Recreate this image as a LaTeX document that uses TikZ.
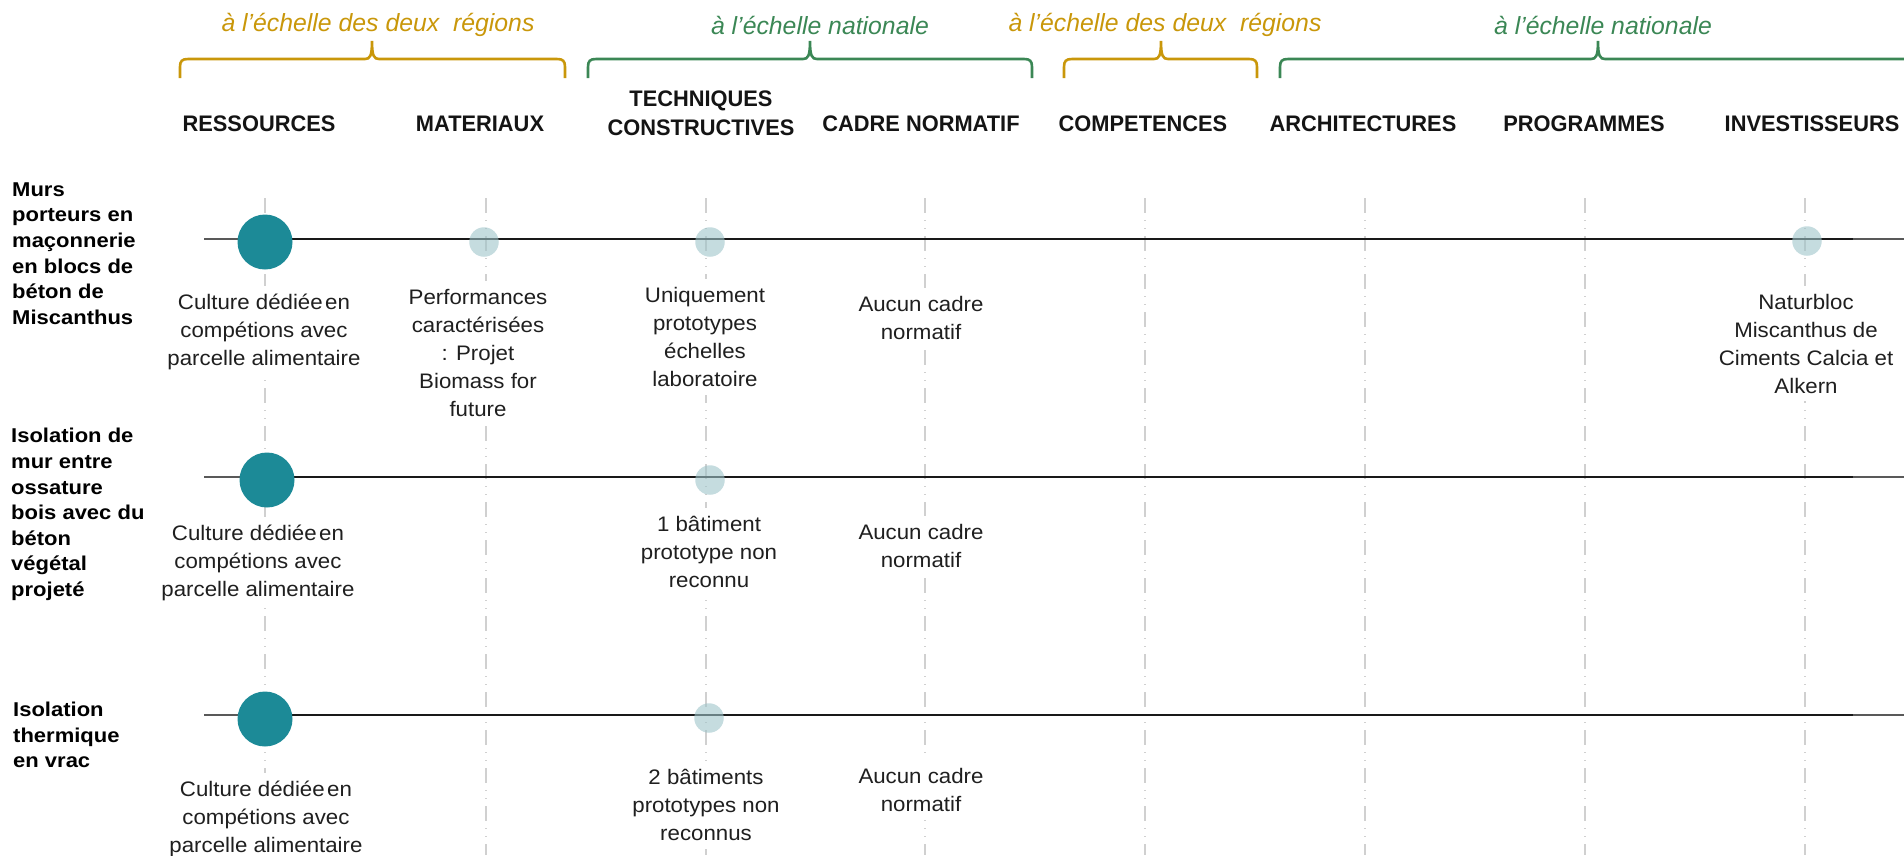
\documentclass[tikz,border=0pt]{standalone}
\usepackage{fontspec}
\setmainfont{Liberation Sans}
\newfontfamily\headfont[FakeStretch=0.97]{Liberation Sans}
\newfontfamily\bodyfont[FakeStretch=1.06]{Liberation Sans}
\newfontfamily\rowfont[FakeStretch=1.1]{Liberation Sans}
\newfontfamily\topfont{Liberation Sans}
\definecolor{tealdot}{HTML}{1C8A97}
\definecolor{lightdot}{HTML}{9EC4C9}
\definecolor{goldc}{HTML}{C9970A}
\definecolor{greenc}{HTML}{3B8755}
\definecolor{vgray}{HTML}{D0D0D0}
\newcommand\mybrace[4]{%
  \draw[bracestyle,#1] (#2,78) -- (#2,67) .. controls (#2,61) and (#2+2,59) .. (#2+8,59)
    -- (#4-7,59) .. controls (#4-2,59) and (#4,56) .. (#4,41)
    .. controls (#4,56) and (#4+2,59) .. (#4+7,59)
    -- (#3-8,59) .. controls (#3-2,59) and (#3,61) .. (#3,67) -- (#3,78);}
\tikzset{
  bracestyle/.style={line width=2.6pt},
  scaletxt/.style={font=\topfont\itshape\fontsize{24.8}{28}\selectfont, inner sep=0pt},
  heading/.style={font=\headfont\bfseries\fontsize{22.5}{29}\selectfont, text=black!92, align=center, inner sep=0pt},
  body/.style={font=\bodyfont\fontsize{21}{28}\selectfont, align=center, fill=white, inner xsep=4pt, inner ysep=8pt, text=black!88},
  rowlab/.style={font=\rowfont\bfseries\fontsize{20}{25.6}\selectfont, align=left, anchor=west, inner sep=0pt, text=black},
  bigdot/.style={circle, fill=tealdot, minimum size=55pt, inner sep=0pt},
  smalldot/.style={circle, fill=lightdot, fill opacity=0.6, minimum size=29.5pt, inner sep=0pt},
  vline/.style={draw=vgray, line width=1.6pt, dash pattern=on 15pt off 7pt on 1pt off 7pt on 1pt off 7pt},
  hline/.style={draw=black!90, line width=2pt},
  hlinegray/.style={draw=black!65, line width=2pt}
}
\begin{document}
\begin{tikzpicture}[x=1pt,y=-1pt]
\path[use as bounding box] (0,0) rectangle (1904,855);
% scale labels and braces
\node[scaletxt, text=goldc] (s1) at (378,25) {à l’échelle des deux\ \ régions};
\node[scaletxt, text=greenc] (s2) at (820,25) {à l’échelle nationale};
\node[scaletxt, text=goldc] (s3) at (1165,25) {à l’échelle des deux\ \ régions};
\node[scaletxt, text=greenc] (s4) at (1603,25) {à l’échelle nationale};
\mybrace{goldc}{180}{565}{372}
\mybrace{greenc}{588}{1032}{810}
\mybrace{goldc}{1064}{1257}{1161}
\mybrace{greenc}{1280}{1960}{1598}
% headings
\node[heading] (h1) at (259,124) {RESSOURCES};
\node[heading] (h2) at (480,124) {MATERIAUX};
\node[heading] (h3) at (701,113.5) {TECHNIQUES\\CONSTRUCTIVES};
\node[heading] (h4) at (921,124) {CADRE NORMATIF};
\node[heading] (h5) at (1143,124) {COMPETENCES};
\node[heading] (h6) at (1363,124) {ARCHITECTURES};
\node[heading] (h7) at (1584,124) {PROGRAMMES};
\node[heading] (h8) at (1812,124) {INVESTISSEURS};
% vertical dash-dot lines
\foreach \x [count=\i] in {265,486,706,925,1145,1365,1585,1805} {
  \coordinate (vt\i) at (\x,198);
  \coordinate (vb\i) at (\x,855);
  \draw[vline] (vt\i) -- (vb\i);
}
% horizontal row lines
\foreach \y [count=\i] in {239,477,715} {
  \coordinate (hs\i) at (204,\y);
  \coordinate (hm\i) at (265,\y);
  \coordinate (he\i) at (1853,\y);
  \coordinate (hz\i) at (1904,\y);
  \draw[hlinegray] (hs\i) -- (hm\i);
  \draw[hline] (hm\i) -- (he\i);
  \draw[hlinegray] (he\i) -- (hz\i);
}
% row labels
\node[rowlab] (r1) at (12,253.5) {Murs\\porteurs en\\maçonnerie\\en blocs de\\béton de\\Miscanthus};
\node[rowlab] (r2) at (11,514.5) {Isolation de\\mur entre\\ossature\\bois avec du\\béton\\végétal\\projeté};
\node[rowlab] (r3) at (13,735) {Isolation\\thermique\\en vrac};
% dots
\node[bigdot] (d1res) at (265,242) {};
\node[bigdot] (d2res) at (267,480) {};
\node[bigdot] (d3res) at (265,719) {};
\node[smalldot] (d1mat) at (484,242) {};
\node[smalldot] (d1tech) at (710,242) {};
\node[smalldot] (d1inv) at (1807,241) {};
\node[smalldot] (d2tech) at (710,480) {};
\node[smalldot] (d3tech) at (709,718) {};
% texts row 1
\node[body] (t1res) at (264,332) {Culture dédiée\hspace{0.12em}en\\compétions avec\\parcelle alimentaire};
\node[body] (t1mat) at (478,352.5) {Performances\\caractérisées\\: Projet\\Biomass for\\future};
\node[body] (t1tech) at (705,337) {Uniquement\\prototypes\\échelles\\laboratoire};
\node[body] (t1cad) at (921,317.5) {Aucun cadre\\normatif};
\node[body] (t1inv) at (1806,343.5) {Naturbloc\\Miscanthus de\\Ciments Calcia et\\Alkern};
% texts row 2
\node[body] (t2res) at (258,562.5) {Culture dédiée\hspace{0.12em}en\\compétions avec\\parcelle alimentaire};
\node[body] (t2tech) at (709,552) {1 bâtiment\\prototype non\\reconnu};
\node[body] (t2cad) at (921,546) {Aucun cadre\\normatif};
% texts row 3
\node[body] (t3res) at (266,818.5) {Culture dédiée\hspace{0.12em}en\\compétions avec\\parcelle alimentaire};
\node[body] (t3tech) at (706,805) {2 bâtiments\\prototypes non\\reconnus};
\node[body] (t3cad) at (921,790) {Aucun cadre\\normatif};
\end{tikzpicture}
\end{document}
